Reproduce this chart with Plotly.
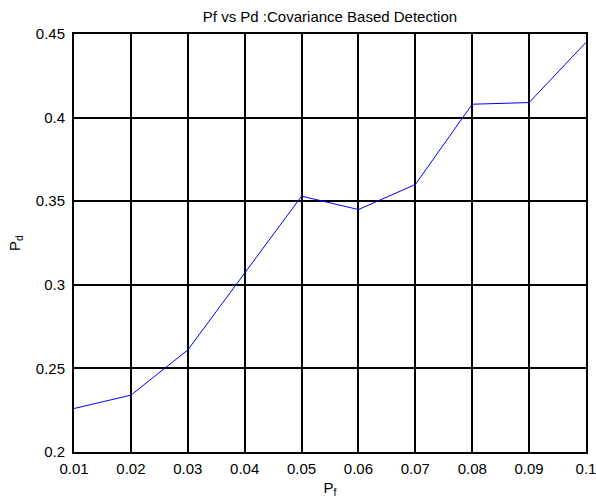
import plotly.graph_objects as go

pf = [0.01, 0.02, 0.03, 0.04, 0.05, 0.06, 0.07, 0.08, 0.09, 0.1]
pd_vals = [0.226, 0.234, 0.261, 0.307, 0.353, 0.345, 0.360, 0.408, 0.409, 0.445]
x_ticks = [0.01, 0.02, 0.03, 0.04, 0.05, 0.06, 0.07, 0.08, 0.09, 0.1]
x_tick_text = ["0.01", "0.02", "0.03", "0.04", "0.05", "0.06", "0.07", "0.08", "0.09", "0.1"]
y_ticks = [0.2, 0.25, 0.3, 0.35, 0.4, 0.45]
y_tick_text = ["0.2", "0.25", "0.3", "0.35", "0.4", "0.45"]

fig = go.Figure(go.Scatter(x=pf, y=pd_vals, mode="lines",
                           line=dict(color="#0000ff", width=1)))

font = "Liberation Sans, Arial, sans-serif"
fig.update_layout(
    width=596, height=499,
    margin=dict(l=74, r=10, t=34, b=47, autoexpand=False),
    paper_bgcolor="white", plot_bgcolor="white",
    showlegend=False,
    font=dict(family=font, size=15, color="black"),
    title=dict(text="Pf vs Pd :Covariance Based Detection", x=(74 + 586) / 2 / 596, xanchor="center",
               y=1 - 17 / 499, yanchor="middle", font=dict(size=15, family=font)),
)
fig.update_xaxes(range=[0.01, 0.1], tickvals=x_ticks, ticktext=x_tick_text,
                 showgrid=True, gridcolor="black", gridwidth=1.5,
                 showline=True, linecolor="black", linewidth=2, mirror=True,
                 ticks="", zeroline=False, ticklabelstandoff=2, automargin=False,
                 ticklabeloverflow="allow",
                 title=dict(text="P<sub>f</sub>", standoff=6, font=dict(size=15)),
                 tickfont=dict(size=15))
fig.update_yaxes(range=[0.2, 0.45], tickvals=y_ticks, ticktext=y_tick_text,
                 showgrid=True, gridcolor="black", gridwidth=1.5,
                 showline=True, linecolor="black", linewidth=2, mirror=True,
                 ticks="", zeroline=False, ticklabelstandoff=4, automargin=False,
                 ticklabeloverflow="allow",
                 title=dict(text="P<sub>d</sub>", standoff=12, font=dict(size=15)),
                 tickfont=dict(size=15))

fig.write_html("out.html")
